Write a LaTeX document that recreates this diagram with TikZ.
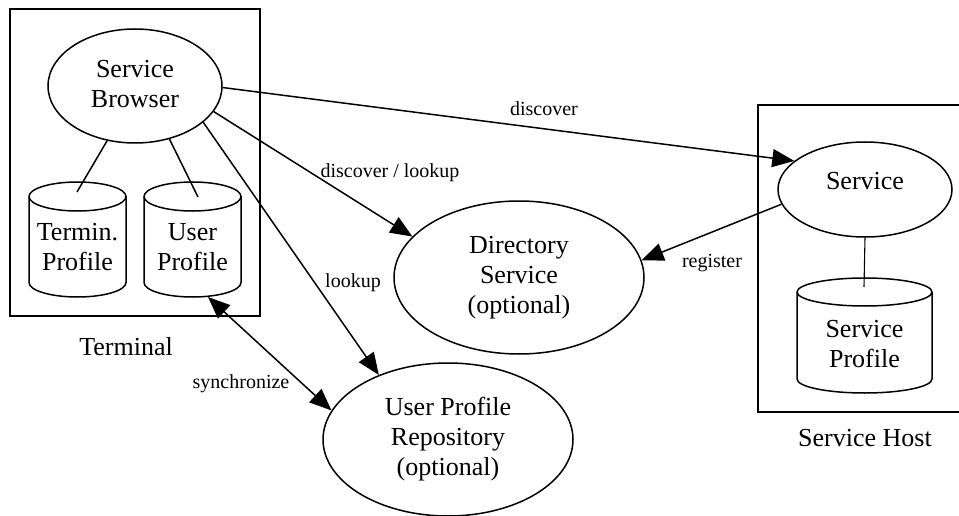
\documentclass[tikz,border=0pt]{standalone}
\usepackage{fontspec}
\setmainfont{Liberation Serif}
\usetikzlibrary{arrows.meta,shapes.geometric}

\tikzset{
  big/.style={font=\fontsize{26}{30}\selectfont},
  small/.style={font=\fontsize{20}{24}\selectfont},
  oval/.style={draw, ellipse, line width=1.5pt, inner sep=0pt, align=center, big},
  txt/.style={inner sep=0pt, align=center},
  container/.style={draw, line width=1.7pt},
  db/.style={draw, line width=1.5pt},
  link/.style={line width=1.5pt},
  arr/.style={line width=1.5pt, -{Triangle[length=22pt, width=18pt]}},
  biarr/.style={line width=1.5pt, {Triangle[length=22pt, width=18pt]}-{Triangle[length=22pt, width=18pt]}},
}

% cylinder: centre x, top y, bottom y, half width, cap radius (all in pt, y negative downwards)
\newcommand{\dbcylinder}[5]{%
  \draw[db] (#1-#4, #2-#5) -- (#1-#4, #3+#5)
    arc[start angle=180, end angle=360, x radius=#4pt, y radius=#5pt]
    -- (#1+#4, #2-#5)
    arc[start angle=0, end angle=180, x radius=#4pt, y radius=#5pt] -- cycle;
  \draw[db] (#1-#4, #2-#5)
    arc[start angle=180, end angle=360, x radius=#4pt, y radius=#5pt];
}

\begin{document}
\begin{tikzpicture}[x=1pt, y=1pt]
\useasboundingbox (0,0) rectangle (959,-516);
\begin{scope}
\clip (0,0) rectangle (959,-516);

% host boxes
\draw[container] (10,-9) rectangle (260,-316);
\draw[container] (758,-105) rectangle (970,-412);
\node[txt, big] (terminal) at (126,-346.5) {Terminal};
\node[txt, big] (hostlabel) at (865,-438) {Service Host};

% ellipse nodes
\node[oval, minimum width=174pt, minimum height=114pt, text depth=4pt] (sb) at (135,-86) {Service\\Browser};
\node[oval, minimum width=174pt, minimum height=95pt, text depth=17pt] (svc) at (865,-189.5) {Service};
\node[oval, minimum width=250pt, minimum height=153pt] (dir) at (519,-277.5) {Directory\\Service\\(optional)};
\node[oval, minimum width=250pt, minimum height=153pt] (upr) at (448,-439.5) {User Profile\\Repository\\(optional)};

% profile stores
\dbcylinder{77.5}{-182}{-297}{48.5}{14.5}
\dbcylinder{192.5}{-182}{-297}{48.5}{14.5}
\dbcylinder{864.5}{-278}{-393}{67.5}{14}
\node[txt, big] (tp) at (77.5,-247) {Termin.\\Profile};
\node[txt, big] (up) at (192.5,-247) {User\\Profile};
\node[txt, big] (sp) at (864.5,-344) {Service\\Profile};

% attachment points on the stores
\coordinate (tptop) at (77,-192);
\coordinate (uptop) at (198,-197);
\coordinate (upbot) at (208,-297);
\coordinate (sptop) at (864,-287);

% connectors
\draw[link] (sb.-117.8) -- (tptop);
\draw[link] (sb.-57.8) -- (uptop);
\draw[line width=1.1pt] (svc.south) -- (sptop);

\draw[arr] (sb.-1) -- (svc.158);
\draw[arr] (sb.-18) -- (dir.159.6);
\draw[arr] (sb.-28.8) -- (upr.137.7);
\draw[arr] (svc.-170.9) -- (dir.8.9);
\draw[biarr] (upbot) -- (upr.166.2);

% connector labels
\node[txt, small] (ldisc) at (544,-108.5) {discover};
\node[txt, small] (ldl) at (390,-173) {discover / lookup};
\node[txt, small] (llook) at (353,-282.4) {lookup};
\node[txt, small] (lreg) at (712,-263.5) {register};
\node[txt, small] (lsync) at (241,-383.3) {synchronize};
\end{scope}
\end{tikzpicture}
\end{document}
